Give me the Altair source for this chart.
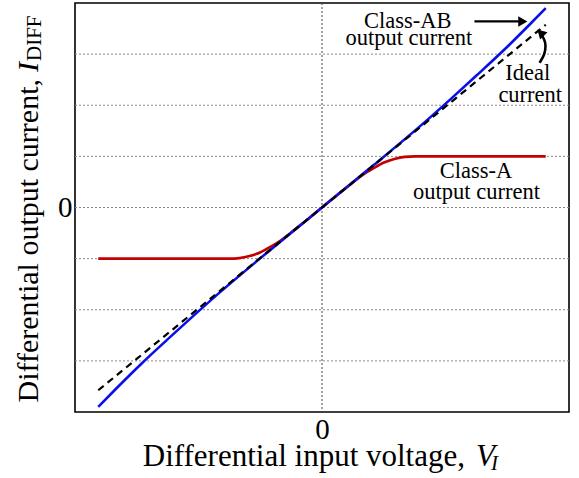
import altair as alt
import pandas as pd

# ---------------- data ----------------
IDEAL_X = [-4.33, 4.33]
IDEAL_Y = [-3.575, 3.575]

AB_X = [-4.33, -4.0, -3.5, -3.0, -2.5, -2.0, -1.0, 0.0, 1.0, 2.0, 2.5, 3.0, 3.5, 4.0, 4.33]
AB_Y = [-3.90, -3.56, -3.06, -2.59, -2.13, -1.68, -0.83, 0.0, 0.83, 1.68, 2.13, 2.59, 3.06, 3.56, 3.90]

A_X = [-4.33, -1.8, -1.6, -1.4, -1.2, -1.0, -0.8, -0.6, -0.4, 0.0, 0.4, 0.6, 0.8, 1.0, 1.2, 1.4, 1.6, 1.8, 4.33]
A_Y = [-1.0, -1.0, -0.99, -0.95, -0.88, -0.77, -0.645, -0.49, -0.33, 0.0, 0.33, 0.49, 0.645, 0.77, 0.88, 0.95, 0.99, 1.0, 1.0]

GRID_Y = [-3, -2, -1, 0, 1, 2, 3]
TICKS = [0]

ANN_TEXT = ["Class-AB", "output current", "Ideal", "current", "Class-A", "output current"]
ANN_X = [1.66, 1.68, 3.98, 4.03, 2.98, 2.99]
ANN_Y = [3.52, 3.17, 2.49, 2.07, 0.575, 0.17]

ARROW1_X = [2.95, 3.87]
ARROW1_Y = [3.64, 3.64]
ARROW2_X = [4.21, 4.31, 4.335, 4.30, 4.23]
ARROW2_Y = [2.83, 2.99, 3.17, 3.30, 3.40]
HEAD_X = [3.886, 4.23]
HEAD_Y = [3.64, 3.42]
HEAD_SHAPE = ["triangle-right", "triangle-up"]
HEAD_ANGLE = [0, 315]

FONT = "Liberation Serif"
W, H = 494, 409

xs = alt.Scale(domain=[-4.78, 4.78], nice=False, zero=False)
ys = alt.Scale(domain=[-4, 4], nice=False, zero=False)
ax_x = alt.Axis(values=TICKS, title=None, grid=False, domain=False, ticks=False,
                labelFont=FONT, labelFontSize=29, labelColor="black", labelPadding=3)
ax_y = alt.Axis(values=TICKS, title=None, grid=False, domain=False, ticks=False,
                labelFont=FONT, labelFontSize=29, labelColor="black", labelPadding=3)


def X(f):
    return alt.X(f, type="quantitative", scale=xs, axis=ax_x)


def Y(f):
    return alt.Y(f, type="quantitative", scale=ys, axis=ax_y)


grid = alt.Chart(pd.DataFrame({"g": GRID_Y})).mark_rule(
    color="#8a8a8a", strokeDash=[2, 2], strokeWidth=1
).encode(y=Y("g"))

zero_v = alt.Chart(pd.DataFrame({"v": TICKS})).mark_rule(
    color="#444444", strokeDash=[2, 2], strokeWidth=1
).encode(x=X("v"))

red = alt.Chart(pd.DataFrame({"x": A_X, "y": A_Y})).mark_line(
    color="#c40000", strokeWidth=2.6, interpolate="monotone"
).encode(x=X("x"), y=Y("y"))

blue = alt.Chart(pd.DataFrame({"x": AB_X, "y": AB_Y})).mark_line(
    color="#0a10e8", strokeWidth=2.6, interpolate="monotone"
).encode(x=X("x"), y=Y("y"))

ideal = alt.Chart(pd.DataFrame({"x": IDEAL_X, "y": IDEAL_Y})).mark_line(
    color="black", strokeWidth=2.2, strokeDash=[7, 5]
).encode(x=X("x"), y=Y("y"))

ann = alt.Chart(pd.DataFrame({"x": ANN_X, "y": ANN_Y, "t": ANN_TEXT})).mark_text(
    font=FONT, fontSize=22.5, color="black", align="center", baseline="alphabetic"
).encode(x=X("x"), y=Y("y"), text="t:N")

arrow1 = alt.Chart(pd.DataFrame({"x": ARROW1_X, "y": ARROW1_Y})).mark_line(
    color="black", strokeWidth=2.2
).encode(x=X("x"), y=Y("y"))

arrow2 = alt.Chart(pd.DataFrame({"x": ARROW2_X, "y": ARROW2_Y, "o": list(range(len(ARROW2_X)))})).mark_line(
    color="black", strokeWidth=2.6, interpolate="basis"
).encode(x=X("x"), y=Y("y"), order="o:O")

heads = alt.Chart(pd.DataFrame({"x": HEAD_X, "y": HEAD_Y, "s": HEAD_SHAPE, "a": HEAD_ANGLE})).mark_point(
    filled=True, color="black", opacity=1, size=110
).encode(x=X("x"), y=Y("y"),
         shape=alt.Shape("s:N", scale=None, legend=None),
         angle=alt.Angle("a:Q", scale=None))

# ---------------- axis titles with italics / subscripts ----------------
def txt(s, x, y, size, style="normal", align="left", angle=0):
    return alt.Chart(pd.DataFrame({"t": [s]})).mark_text(
        font=FONT, fontSize=size, fontStyle=style, color="black",
        align=align, baseline="alphabetic", angle=angle
    ).encode(x=alt.value(x), y=alt.value(y), text="t:N")


xt1 = txt("Differential input voltage,", 390, 463, 31, align="right")
xt2 = txt("V", 401, 463, 31, style="italic")
xt3 = txt("I", 416, 467, 21, style="italic")

yt1 = txt("Differential output current,", -37, 76, 30, align="right", angle=270)
yt2 = txt("I", -37, 69, 30, style="italic", angle=270)
yt3 = txt("DIFF", -34, 58, 21, angle=270)

chart = alt.layer(
    grid, zero_v, red, blue, ideal, ann, arrow1, arrow2, heads,
    xt1, xt2, xt3, yt1, yt2, yt3
).properties(
    width=W, height=H,
    autosize=alt.AutoSizeParams(type="none"),
    padding={"left": 75, "top": 3, "right": 10, "bottom": 66},
    background="white"
).configure_view(stroke="black", strokeWidth=1.6)

chart.save("out.html", embed_options={"renderer": "svg", "actions": False})
